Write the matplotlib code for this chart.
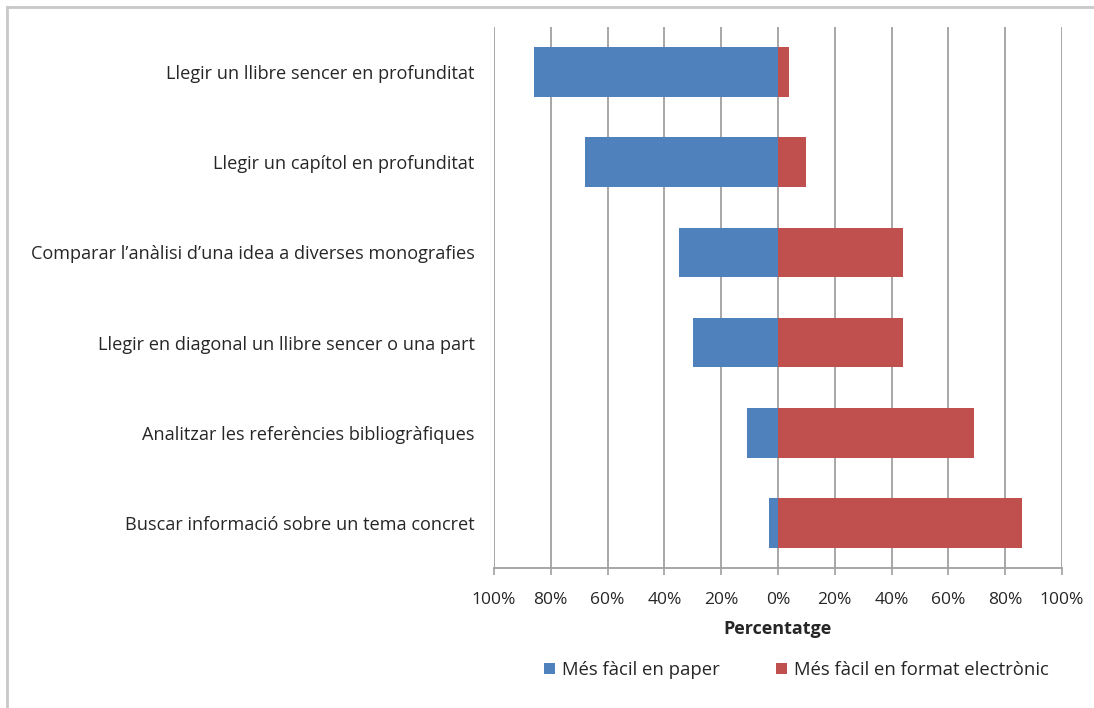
import matplotlib.pyplot as plt
import numpy as np
from matplotlib.lines import Line2D

# dades llegides del grafic
activitats = [
    "Llegir un llibre sencer en profunditat",
    "Llegir un capítol en profunditat",
    "Comparar l’anàlisi d’una idea a diverses monografies",
    "Llegir en diagonal un llibre sencer o una part",
    "Analitzar les referències bibliogràfiques",
    "Buscar informació sobre un tema concret",
]
paper = [86, 68, 35, 30, 11, 3]        # % mes facil en paper (es dibuixa a l'esquerra)
electronic = [4, 10, 44, 44, 69, 86]   # % mes facil en format electronic
series_noms = ["Més fàcil en paper", "Més fàcil en format electrònic"]
ticks = [-100, -80, -60, -40, -20, 0, 20, 40, 60, 80, 100]
tick_labels = [f"{abs(t)}%" for t in ticks]

blau = "#4F81BD"
vermell = "#C0504D"
gris = "#A0A0A0"
text_color = "#262626"

plt.rcParams['font.family'] = ['Open Sans', 'DejaVu Sans']

fig = plt.figure(figsize=(10.94, 7.08), dpi=100)
ax = fig.add_axes([494/1094, 1 - 568/708, (1062 - 494)/1094, (568 - 27)/708])

y = np.arange(len(activitats))
ax.barh(y, -np.array(paper), height=0.55, color=blau, label=series_noms[0], zorder=3)
ax.barh(y, electronic, height=0.55, color=vermell, label=series_noms[1], zorder=3)

ax.set_xlim(-100, 100)
ax.set_ylim(len(activitats) - 0.5, -0.5)
ax.set_xticks(ticks)
ax.set_xticklabels(tick_labels, fontsize=12.5, color=text_color)
ax.set_yticks(y)
ax.set_yticklabels(activitats, fontsize=13.1, color=text_color)
ax.tick_params(axis="y", length=0, pad=14)
ax.tick_params(axis="x", length=5, color=gris, width=1.2, pad=12)

ax.grid(axis="x", color=gris, lw=1.3, zorder=0)
for s in ["top", "right", "left"]:
    ax.spines[s].set_visible(False)
ax.spines["bottom"].set_color(gris)
ax.spines["bottom"].set_linewidth(1.3)

ax.set_xlabel("Percentatge", fontsize=13, fontweight="bold", color=text_color, labelpad=9)

fig.legend(loc="center", bbox_to_anchor=(0.728, 1 - 670/708), ncol=2, frameon=False,
           fontsize=13.3, handlelength=0.6, handleheight=0.6, handletextpad=0.4,
           columnspacing=3.0, labelcolor=text_color)

# marc del grafic (nomes esquerra i dalt)
fig.add_artist(Line2D([7/1094, 7/1094], [0, 1 - 7/708], transform=fig.transFigure, color="#C8C8C8", lw=2))
fig.add_artist(Line2D([7/1094, 1], [1 - 7/708, 1 - 7/708], transform=fig.transFigure, color="#C8C8C8", lw=2))

fig.savefig("out.png", dpi=100)
